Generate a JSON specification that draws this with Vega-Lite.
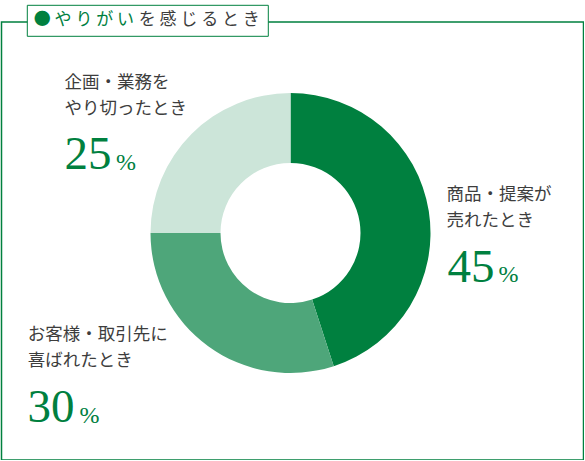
{
  "$schema": "https://vega.github.io/schema/vega-lite/v6.json",
  "background": "white",
  "padding": {"left": 1.5, "top": 4, "right": 0, "bottom": 0},
  "width": 582,
  "height": 438,
  "view": {"stroke": "#00803f", "strokeWidth": 1.5, "fill": "white"},
  "datasets": {
    "answers": [
      {"label": "商品・提案が\n売れたとき", "value": 45},
      {"label": "お客様・取引先に\n喜ばれたとき", "value": 30},
      {"label": "企画・業務を\nやり切ったとき", "value": 25}
    ],
    "heading": [
      {"tail": "を 感 じ る と き"}
    ]
  },
  "data": {"name": "answers"},
  "layer": [
    {
      "mark": {"type": "arc", "innerRadius": 70, "outerRadius": 140, "xOffset": -2, "yOffset": -8},
      "encoding": {
        "theta": {"field": "value", "type": "quantitative", "stack": true},
        "order": {"field": "value", "sort": "descending"},
        "color": {
          "field": "value",
          "type": "nominal",
          "scale": {"domain": [45, 30, 25], "range": ["#00803f", "#4ea67a", "#cce5d9"]},
          "legend": null
        }
      }
    },
    {
      "transform": [{"filter": {"field": "value", "equal": 45}}],
      "layer": [
        {
          "mark": {"type": "text", "align": "left", "baseline": "alphabetic", "dx": 154, "dy": -41.5, "lineBreak": "\n", "lineHeight": 26, "font": "Noto Sans CJK JP", "fontSize": 17.5, "color": "#3d3d3d"},
          "encoding": {"text": {"field": "label"}}
        },
        {
          "mark": {"type": "text", "align": "left", "baseline": "alphabetic", "dx": 155, "dy": 40.5, "font": "Liberation Serif", "fontSize": 47, "color": "#00803f"},
          "encoding": {"text": {"field": "value", "type": "quantitative"}}
        },
        {
          "mark": {"type": "text", "align": "left", "baseline": "alphabetic", "dx": 206, "dy": 41, "font": "Liberation Serif", "fontSize": 24, "color": "#00803f"},
          "encoding": {"text": {"value": "%"}}
        }
      ]
    },
    {
      "transform": [{"filter": {"field": "value", "equal": 30}}],
      "layer": [
        {
          "mark": {"type": "text", "align": "left", "baseline": "alphabetic", "dx": -264.7, "dy": 98.5, "lineBreak": "\n", "lineHeight": 26, "font": "Noto Sans CJK JP", "fontSize": 17.5, "color": "#3d3d3d"},
          "encoding": {"text": {"field": "label"}}
        },
        {
          "mark": {"type": "text", "align": "left", "baseline": "alphabetic", "dx": -265, "dy": 181, "font": "Liberation Serif", "fontSize": 47, "color": "#00803f"},
          "encoding": {"text": {"field": "value", "type": "quantitative"}}
        },
        {
          "mark": {"type": "text", "align": "left", "baseline": "alphabetic", "dx": -213, "dy": 181.5, "font": "Liberation Serif", "fontSize": 24, "color": "#00803f"},
          "encoding": {"text": {"value": "%"}}
        }
      ]
    },
    {
      "transform": [{"filter": {"field": "value", "equal": 25}}],
      "layer": [
        {
          "mark": {"type": "text", "align": "left", "baseline": "alphabetic", "dx": -228, "dy": -153, "lineBreak": "\n", "lineHeight": 26, "font": "Noto Sans CJK JP", "fontSize": 17.5, "color": "#3d3d3d"},
          "encoding": {"text": {"field": "label"}}
        },
        {
          "mark": {"type": "text", "align": "left", "baseline": "alphabetic", "dx": -228, "dy": -72, "font": "Liberation Serif", "fontSize": 47, "color": "#00803f"},
          "encoding": {"text": {"field": "value", "type": "quantitative"}}
        },
        {
          "mark": {"type": "text", "align": "left", "baseline": "alphabetic", "dx": -176.5, "dy": -71, "font": "Liberation Serif", "fontSize": 24, "color": "#00803f"},
          "encoding": {"text": {"value": "%"}}
        }
      ]
    },
    {
      "data": {"name": "heading"},
      "mark": {"type": "point", "opacity": 0},
      "encoding": {
        "shape": {
          "field": "tail",
          "type": "nominal",
          "legend": {
            "title": "● や り が い",
            "orient": "none",
            "legendX": 25.3,
            "legendY": -17.2,
            "padding": 7,
            "strokeColor": "#00803f",
            "fillColor": "white",
            "titleOrient": "left",
            "titlePadding": -13,
            "titleFont": "Noto Sans CJK JP",
            "titleFontSize": 17,
            "titleFontWeight": "normal",
            "titleColor": "#00803f",
            "labelFont": "Noto Sans CJK JP",
            "labelFontSize": 17,
            "labelColor": "#3d3d3d",
            "labelOffset": 0,
            "labelLimit": 300,
            "symbolSize": 0,
            "symbolStrokeWidth": 0,
            "symbolOpacity": 0
          }
        }
      }
    }
  ],
  "config": {
    "view": {"stroke": "#00803f", "strokeWidth": 1.5, "fill": "white"},
    "style": {"cell": {"stroke": "#00803f", "strokeWidth": 1.5}}
  }
}
